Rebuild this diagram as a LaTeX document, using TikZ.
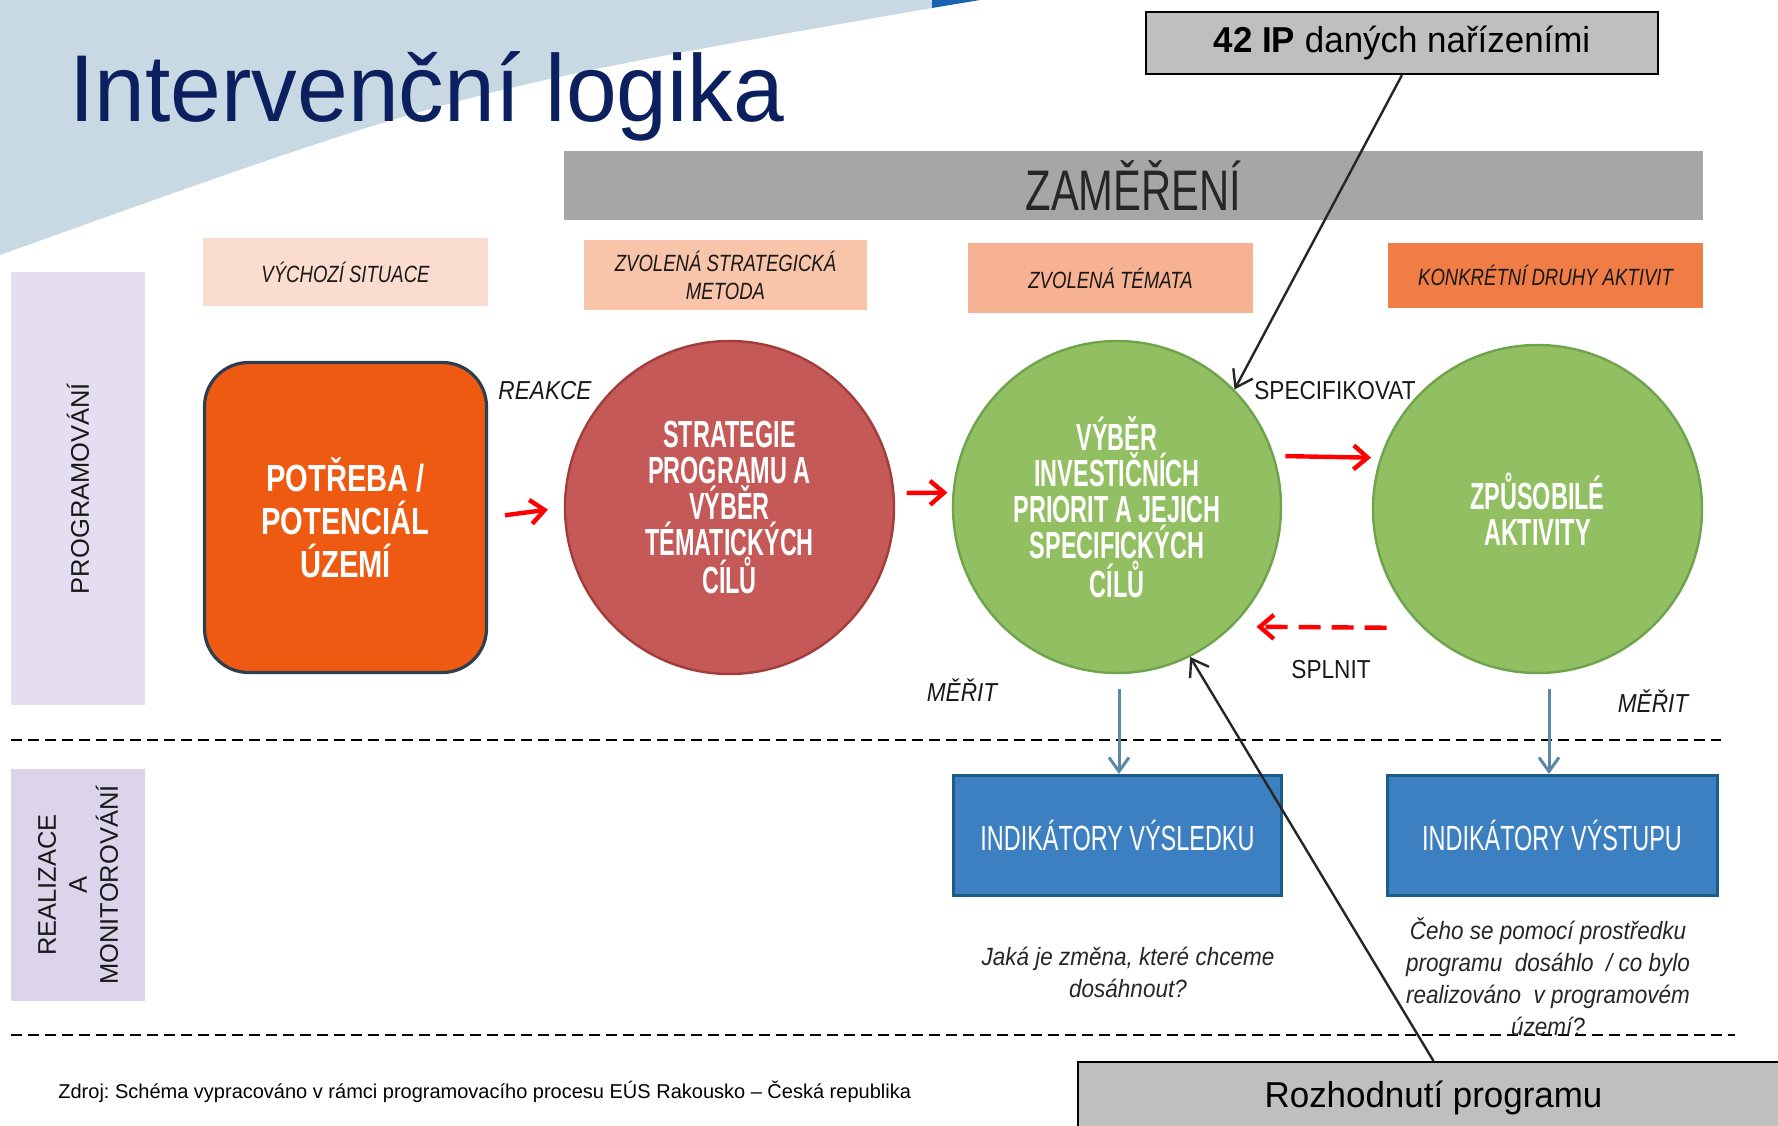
\documentclass[tikz,border=0pt]{standalone}
\usepackage{fontspec}
\setmainfont{Liberation Sans}
\newfontfamily\fTitle[FakeStretch=0.96]{Liberation Sans}
\newfontfamily\fZam[FakeStretch=0.73]{Liberation Sans}
\newfontfamily\fHdr[FakeStretch=0.79]{Liberation Sans}
\newfontfamily\fBox[FakeStretch=0.77]{Liberation Sans}
\newfontfamily\fCirc[FakeStretch=0.62]{Liberation Sans}
\newfontfamily\fInd[FakeStretch=0.67]{Liberation Sans}
\newfontfamily\fLab[FakeStretch=0.87]{Liberation Sans}
\newfontfamily\fQ[FakeStretch=0.9]{Liberation Sans}
\newfontfamily\fCall[FakeStretch=0.97]{Liberation Sans}
\newfontfamily\fSide{Liberation Sans}
\newfontfamily\fFoot{Liberation Sans}
\usetikzlibrary{arrows.meta,shapes.geometric}
\definecolor{bgblue}{HTML}{C9D9E3}
\definecolor{dkblue}{HTML}{1763AE}
\definecolor{navy}{HTML}{0C1F5E}
\definecolor{zamgray}{HTML}{A6A6A6}
\definecolor{zamtext}{HTML}{262626}
\definecolor{pkA}{HTML}{FBDDD0}
\definecolor{pkB}{HTML}{F8C4AA}
\definecolor{pkC}{HTML}{F6B293}
\definecolor{pkD}{HTML}{F07C46}
\definecolor{lavA}{HTML}{E5DEF1}
\definecolor{lavB}{HTML}{DCD4EA}
\definecolor{potfill}{HTML}{EE5A12}
\definecolor{slate}{HTML}{2E3E4F}
\definecolor{redc}{HTML}{C55957}
\definecolor{redcb}{HTML}{A13E3C}
\definecolor{grn}{HTML}{92BF61}
\definecolor{grnb}{HTML}{6EA44E}
\definecolor{indfill}{HTML}{3C80C1}
\definecolor{indb}{HTML}{1C5D87}
\definecolor{steel}{HTML}{5B88A6}
\definecolor{callgray}{HTML}{BFBFBF}
\definecolor{arrred}{HTML}{FF0000}
\frenchspacing
\begin{document}
\begin{tikzpicture}[x=0.5pt,y=-0.5pt,
  hdrbox/.style={inner sep=0, minimum height=34pt, font=\fHdr\itshape\fontsize{11.75}{14}\selectfont, text=black!90, align=center},
  sidebox/.style={inner sep=0, minimum width=67pt},
  sidetext/.style={rotate=90, inner sep=0, font=\fSide\fontsize{12.75}{15.5}\selectfont, text=black!90, align=center},
  circ/.style={ellipse, inner sep=0, line width=1.2pt, font=\fCirc\bfseries\fontsize{18.9}{18}\selectfont, text=white, align=center},
  indbox/.style={draw=indb, line width=1.5pt, fill=indfill, inner sep=0, minimum width=164pt, minimum height=60pt, font=\fInd\fontsize{17.5}{20}\selectfont, text=white},
  lab/.style={inner sep=0, font=\fLab\fontsize{13}{15}\selectfont, text=black!90},
  quest/.style={inner sep=0, font=\fQ\itshape\fontsize{12.5}{16}\selectfont, text=black!85, align=center},
  callbox/.style={draw=black, line width=1pt, fill=callgray, inner sep=0, font=\fCall\fontsize{18}{20}\selectfont, text=black},
  redarr/.style={draw=arrred, line width=2.2pt, -{Straight Barb[length=7pt,width=12pt]}},
  steelarr/.style={draw=steel, line width=1.5pt, -{Straight Barb[length=7pt,width=10pt]}},
  blackarr/.style={draw=black!85, line width=1.2pt, -{Straight Barb[length=8pt,width=11pt]}},
  sepline/.style={draw=black, line width=1.1pt, dash pattern=on 5.5pt off 3pt}
]
\useasboundingbox (0,0) rectangle (1778,1125);
\fill[white] (0,0) rectangle (1778,1125);
\clip (0,0) rectangle (1778,1125);

% background corner
\fill[bgblue] (0,0) -- (932,0) -- (932,8) .. controls (460,90) .. (0,255) -- cycle;
\fill[dkblue] (932,0) -- (980,0) -- (932,8) -- cycle;

% title
\node[anchor=base west, inner sep=0, font=\fTitle\fontsize{47.5}{50}\selectfont, text=navy] (title) at (69,121) {Intervenční logika};

% focus bar
\node[fill=zamgray, inner sep=0, minimum width=569.5pt, minimum height=34.5pt, font=\fZam\fontsize{28.6}{30}\selectfont, text=zamtext] (zam) at (1133.5,185.5) {ZAMĚŘENÍ};

% header boxes
\node[hdrbox, fill=pkA, minimum width=142.5pt] (h1) at (345.5,272) {VÝCHOZÍ SITUACE};
\node[hdrbox, fill=pkB, minimum width=141.5pt, minimum height=35pt] (h2) at (725.5,275) {ZVOLENÁ STRATEGICKÁ\\METODA};
\node[hdrbox, fill=pkC, minimum width=142.5pt, minimum height=35pt] (h3) at (1110.5,278) {ZVOLENÁ TÉMATA};
\node[hdrbox, fill=pkD, minimum width=157.5pt, minimum height=32.5pt] (h4) at (1545.5,275.5) {KONKRÉTNÍ DRUHY AKTIVIT};

% side boxes
\node[sidebox, fill=lavA, minimum height=216.5pt] (prog) at (78,488.5) {};
\node[sidetext] (progl) at (prog.center) {PROGRAMOVÁNÍ};
\node[sidebox, fill=lavB, minimum height=116pt] (real) at (78,885) {};
\node[sidetext] (reall) at (real.center) {REALIZACE\\A\\MONITOROVÁNÍ};

% separators
\coordinate (s1a) at (11,740);
\coordinate (s1b) at (1721,740);
\coordinate (s2a) at (11,1035);
\coordinate (s2b) at (1735,1035);
\draw[sepline] (s1a) -- (s1b);
\draw[sepline] (s2a) -- (s2b);

% main shapes
\node[draw=slate, line width=1.6pt, fill=potfill, rounded corners=22pt, inner sep=0, minimum width=141pt, minimum height=155pt, font=\fBox\bfseries\fontsize{18.9}{21.5}\selectfont, text=white, align=center] (pot) at (345.5,517.5) {POTŘEBA /\\POTENCIÁL\\ÚZEMÍ};
\node[circ, draw=redcb, fill=redc, minimum width=164.5pt, minimum height=166.5pt] (strat) at (729.5,507.5) {STRATEGIE\\PROGRAMU A\\VÝBĚR\\TÉMATICKÝCH\\CÍLŮ};
\node[circ, draw=grnb, fill=grn, minimum width=164pt, minimum height=166pt] (g1) at (1117,507) {VÝBĚR\\INVESTIČNÍCH\\PRIORIT A JEJICH\\SPECIFICKÝCH\\CÍLŮ};
\node[circ, draw=grnb, fill=grn, minimum width=164.5pt, minimum height=164pt] (g2) at (1537.5,509) {ZPŮSOBILÉ\\AKTIVITY};

% indicator boxes
\node[indbox] (ind1) at (1117.5,835.5) {INDIKÁTORY VÝSLEDKU};
\node[indbox, minimum width=165pt] (ind2) at (1552,835.5) {INDIKÁTORY VÝSTUPU};

% red arrows
\draw[redarr, shorten <=8.5pt, shorten >=8pt] (pot.east) -- (strat.west);
\draw[redarr, shorten <=6pt, shorten >=2.5pt] (strat.5) -- (g1.175);
\draw[redarr, shorten <=5.5pt, shorten >=4.5pt] (g1.18) -- (g2.162);
\draw[redarr, dash pattern=on 11pt off 5.5pt, shorten <=18pt, shorten >=12pt] (g2.226) -- (g1.314);

% labels
\node[lab, font=\fLab\itshape\fontsize{13}{15}\selectfont] (reakce) at (545,391) {REAKCE};
\node[lab] (spec) at (1335,391) {SPECIFIKOVAT};
\node[lab] (splnit) at (1331,670) {SPLNIT};
\node[lab, font=\fLab\itshape\fontsize{13}{15}\selectfont] (mer1) at (962,690) {MĚŘIT};
\node[lab, font=\fLab\itshape\fontsize{13}{15}\selectfont] (mer2) at (1653,701) {MĚŘIT};

% measuring arrows
\coordinate (m1) at (1119,689);
\coordinate (m2) at (1549,689);
\draw[steelarr] (m1) -- (m1 |- ind1.north);
\draw[steelarr] (m2) -- (m2 |- ind2.north);

% questions
\node[quest] (q1) at (1128,972) {Jaká je změna, které chceme\\dosáhnout?};
\node[quest] (q2) at (1548,977) {Čeho se pomocí prostředku\\programu\ \ dosáhlo\ \ / co bylo\\realizováno\ \ v programovém\\území?};

% callouts
\node[callbox, minimum width=256pt, minimum height=31pt] (ip) at (1402,43) {\textbf{42 IP} daných nařízeními};
\node[callbox, minimum width=356pt, minimum height=36pt] (roz) at (1433.5,1098) {Rozhodnutí programu};
\draw[blackarr] (ip.south) -- (g1.45);
\draw[blackarr] (roz.north) -- (g1.296);

% footer
\node[anchor=west, inner sep=0, font=\fFoot\fontsize{10}{12}\selectfont, text=black] (src) at (58,1092) {Zdroj: Schéma vypracováno v rámci programovacího procesu EÚS Rakousko – Česká republika};
\end{tikzpicture}
\end{document}
